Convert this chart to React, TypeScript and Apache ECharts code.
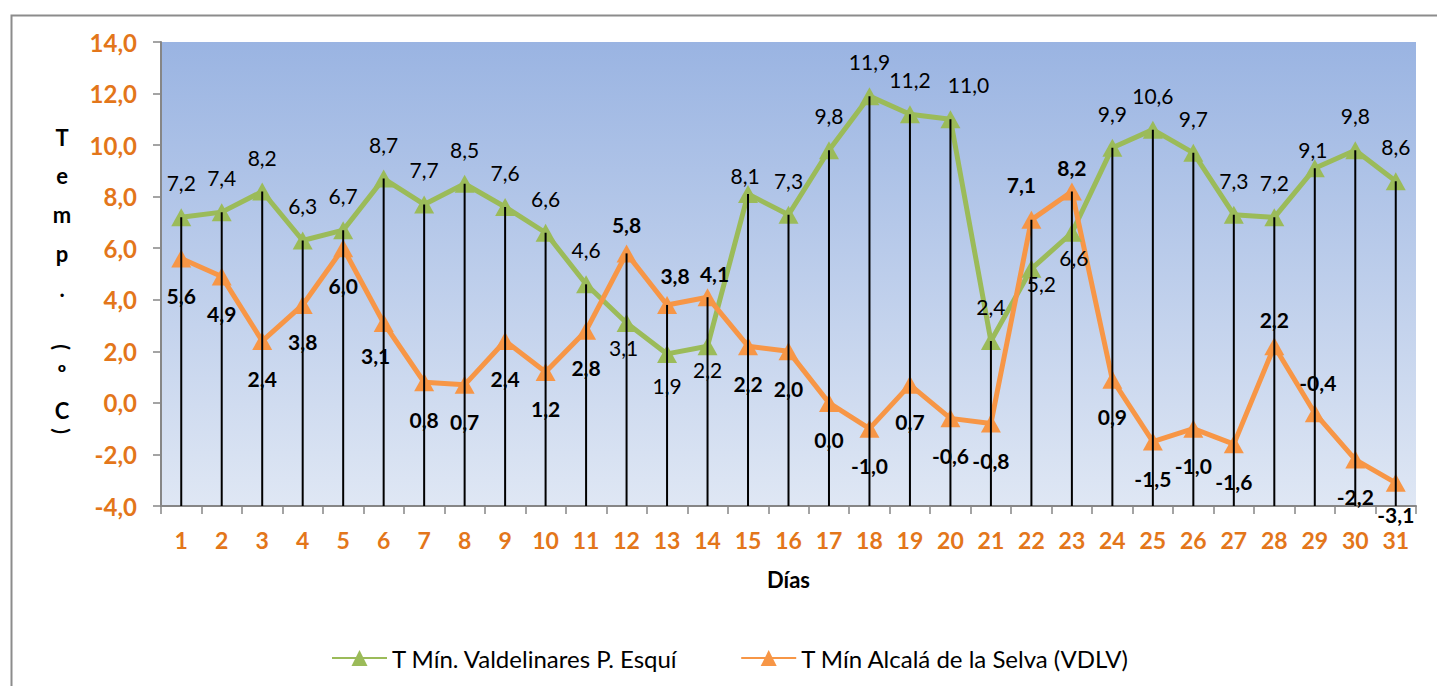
import React, { useEffect, useRef } from 'react';
import * as echarts from 'echarts';

const days = ['1', '2', '3', '4', '5', '6', '7', '8', '9', '10', '11', '12', '13', '14', '15', '16', '17', '18', '19', '20', '21', '22', '23', '24', '25', '26', '27', '28', '29', '30', '31'];

const valdelinares = [7.2, 7.4, 8.2, 6.3, 6.7, 8.7, 7.7, 8.5, 7.6, 6.6, 4.6, 3.1, 1.9, 2.2, 8.1, 7.3, 9.8, 11.9, 11.2, 11.0, 2.4, 5.2, 6.6, 9.9, 10.6, 9.7, 7.3, 7.2, 9.1, 9.8, 8.6];

const alcala = [5.6, 4.9, 2.4, 3.8, 6.0, 3.1, 0.8, 0.7, 2.4, 1.2, 2.8, 5.8, 3.8, 4.1, 2.2, 2.0, 0.0, -1.0, 0.7, -0.6, -0.8, 7.1, 8.2, 0.9, -1.5, -1.0, -1.6, 2.2, -0.4, -2.2, -3.1];

const seriesNames = ['T Mín. Valdelinares P. Esquí', 'T Mín Alcalá de la Selva (VDLV)'];

const yMin = -4;
const yMax = 14;
const yStep = 2;

// label placement (style, not data)
const greenOffsetDefault: [number, number] = [0, -34.5];
const greenOffsets: Record<number, [number, number]> = {
  12: [-3, 25], 13: [0, 32], 14: [0, 23], 15: [-3, -19], 20: [18, -35], 22: [10, 15], 23: [2, 25], 29: [-2, -19],
};
const orangeOffsetDefault: [number, number] = [0, 37];
const orangeOffsets: Record<number, [number, number]> = {
  6: [-8, 33], 12: [0, -29], 13: [8, -29], 14: [7, -24], 22: [-10, -35], 23: [0, -24], 28: [0, -27], 29: [3, -31], 31: [0, 32],
};

const GREEN = '#9BBB59';
const ORANGE = '#F79646';
const AXIS_ORANGE = '#E3761A';
const FONT = 'Lato';

const fmt = (v: number) => v.toFixed(1).replace('.', ',');

export default function App() {
  const ref = useRef<HTMLDivElement>(null);

  useEffect(() => {
    if (!ref.current) return;
    const chart = echarts.init(ref.current, undefined, { renderer: 'svg' });

    const dropTops = valdelinares.map((g, i) => [i, Math.max(g, alcala[i])]);

    const greenData = valdelinares.map((v, i) => ({
      value: v,
      label: { offset: greenOffsets[i + 1] ?? greenOffsetDefault },
    }));
    const orangeData = alcala.map((v, i) => ({
      value: v,
      label: { offset: orangeOffsets[i + 1] ?? orangeOffsetDefault },
    }));

    const yNameChars: { t: string; y: number; r?: number; s?: number }[] = [
      { t: 'T', y: 137 },
      { t: 'e', y: 175 },
      { t: 'm', y: 214 },
      { t: 'p', y: 253 },
      { t: '.', y: 288 },
      { t: '(', y: 347, r: -Math.PI / 2, s: 21 },
      { t: 'º', y: 372 },
      { t: 'C', y: 410 },
      { t: ')', y: 431, r: -Math.PI / 2, s: 21 },
    ];

    chart.setOption({
      animation: false,
      backgroundColor: '#ffffff',
      grid: {
        left: 161,
        right: 21,
        top: 42,
        bottom: 180,
        show: true,
        borderWidth: 0,
        backgroundColor: {
          type: 'linear',
          x: 0, y: 0, x2: 0, y2: 1,
          colorStops: [
            { offset: 0, color: '#9AB4E2' },
            { offset: 1, color: '#DFE7F4' },
          ],
        },
      },
      legend: {
        data: seriesNames,
        left: 326,
        top: 641,
        itemWidth: 55,
        itemHeight: 20,
        itemGap: 62,
        textStyle: { fontFamily: FONT, fontSize: 24, color: '#000' },
      },
      xAxis: {
        type: 'category',
        data: days,
        boundaryGap: true,
        axisLine: { onZero: false, lineStyle: { color: '#868686', width: 2 } },
        axisTick: { show: true, length: 8, alignWithLabel: false, lineStyle: { color: '#868686', width: 1.5 } },
        axisLabel: { color: AXIS_ORANGE, fontWeight: 'bold', fontSize: 23, fontFamily: FONT, margin: 22, interval: 0 },
        splitLine: { show: false },
        name: 'Días',
        nameLocation: 'middle',
        nameGap: 62,
        nameTextStyle: { color: '#000', fontWeight: 'bold', fontSize: 22, fontFamily: FONT },
      },
      yAxis: {
        type: 'value',
        min: yMin,
        max: yMax,
        interval: yStep,
        axisLine: { show: true, lineStyle: { color: '#868686', width: 2 } },
        axisTick: { show: true, length: 8, lineStyle: { color: '#868686', width: 1.5 } },
        axisLabel: {
          color: AXIS_ORANGE, fontWeight: 'bold', fontSize: 24, fontFamily: FONT, margin: 24,
          formatter: (v: number) => fmt(v),
        },
        splitLine: { show: false },
      },
      series: [
        {
          name: seriesNames[0],
          type: 'line',
          data: greenData,
          symbol: 'triangle',
          symbolSize: [20, 18],
          color: GREEN,
          lineStyle: { color: GREEN, width: 5 },
          itemStyle: { color: GREEN },
          z: 2,
          label: {
            show: true,
            position: 'inside',
            color: '#000',
            fontFamily: FONT,
            fontSize: 21,
            formatter: (p: any) => fmt(p.value),
          },
        },
        {
          name: seriesNames[1],
          type: 'line',
          data: orangeData,
          symbol: 'triangle',
          symbolSize: [20, 18],
          color: ORANGE,
          lineStyle: { color: ORANGE, width: 5 },
          itemStyle: { color: ORANGE },
          z: 2,
          label: {
            show: true,
            position: 'inside',
            color: '#000',
            fontFamily: FONT,
            fontWeight: 'bold',
            fontSize: 21,
            formatter: (p: any) => fmt(p.value),
          },
        },
        {
          name: 'drop',
          type: 'custom',
          silent: true,
          z: 3,
          data: dropTops,
          encode: { x: 0, y: 1 },
          renderItem: (params: any, api: any) => {
            const top = api.coord([api.value(0), api.value(1)]);
            const bottom = api.coord([api.value(0), yMin]);
            return {
              type: 'line',
              shape: { x1: top[0], y1: top[1], x2: bottom[0], y2: bottom[1] },
              style: { stroke: '#000', lineWidth: 2 },
            };
          },
        },
      ],
      graphic: [
        {
          type: 'rect',
          left: 9,
          top: 13,
          shape: { x: 0, y: 0, width: 1500, height: 800 },
          style: { fill: 'none', stroke: '#8C8C8C', lineWidth: 2 },
          silent: true,
          z: -1,
        },
        ...yNameChars.map((c) => ({
          type: 'text',
          x: 62,
          y: c.y,
          rotation: c.r ?? 0,
          style: {
            text: c.t,
            fill: '#000',
            font: `bold ${c.s ?? 22}px ${FONT}`,
            align: 'center',
            verticalAlign: 'middle',
          },
        })),
      ],
    });

    return () => chart.dispose();
  }, []);

  return (
    <div
      ref={ref}
      style={{ position: 'fixed', left: 0, top: 0, width: 1437, height: 686 }}
    />
  );
}
